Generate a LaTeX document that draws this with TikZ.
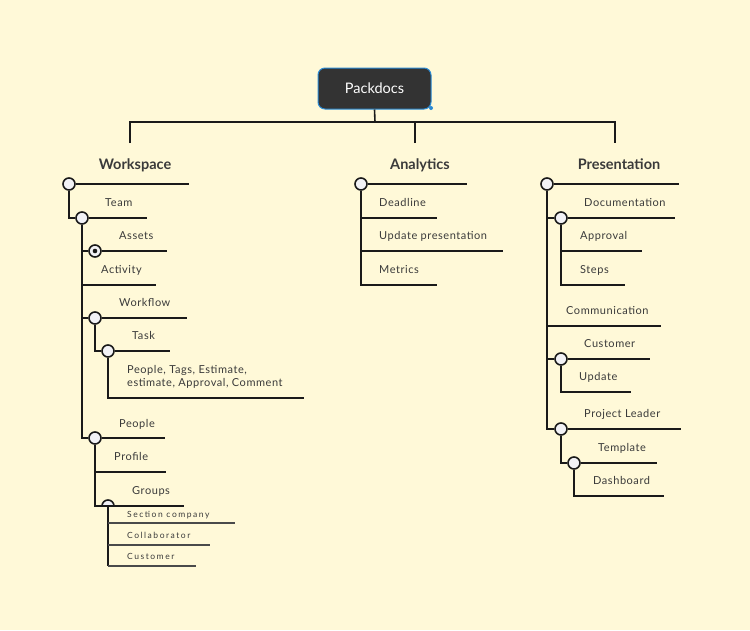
\documentclass[tikz,border=0pt]{standalone}
\usepackage{fontspec}
\setmainfont{Lato}
\definecolor{bg}{HTML}{FFF9D8}
\definecolor{ln}{HTML}{1A1A1A}
\definecolor{tx}{HTML}{3A3A3A}
\definecolor{cf}{HTML}{F2F2F6}
\definecolor{rootc}{HTML}{333333}
\definecolor{rootb}{HTML}{2A8AD4}
\definecolor{subln}{HTML}{4A4A4A}
\begin{document}
\begin{tikzpicture}[x=1pt,y=-1pt,
  br/.style={line width=1.6pt, draw=ln},
  sbr/.style={line width=1.2pt, draw=subln},
  dotc/.style={circle, draw=ln, line width=1.6pt, fill=cf, minimum size=12pt, inner sep=0pt},
  lbl/.style={anchor=base west, inner sep=0pt, font=\fontsize{11}{12.5}\selectfont\addfontfeatures{LetterSpace=5}, text=tx},
  slbl/.style={anchor=base west, inner sep=0pt, font=\fontsize{8.5}{9}\selectfont\addfontfeatures{LetterSpace=18}, text=tx},
  head/.style={anchor=base, inner sep=0pt, font=\bfseries\fontsize{14.5}{16}\selectfont, text=tx},
  root/.style={rectangle, rounded corners=7pt, fill=rootc, draw=rootb, line width=1pt, minimum width=113pt, minimum height=41pt, text=white, font=\fontsize{14.5}{16}\selectfont}]
\fill[bg] (0,0) rectangle (750,630);
\useasboundingbox (0,0) rectangle (750,630);

% root
\node[root] (root) at (374.5,88.5) {Packdocs};
\fill[rootb] (431,108) circle (2pt);
\coordinate (hb) at (375,122);
\coordinate (cw) at (130,143);
\coordinate (ca) at (415,143);
\coordinate (cp) at (615,143);
\draw[br] (root.south) -- (hb);
\draw[br] (cw) |- (hb) -| (cp);
\draw[br] (ca) -- (ca |- hb);

% headings
\node[head] (hw) at (135,169) {Workspace};
\node[head] (ha) at (420,169) {Analytics};
\node[head] (hp) at (619,169) {Presentation};

% ---------------- Workspace
\node[dotc] (w0) at (69,184) {};
\coordinate (w0e) at (189,184);
\node[dotc] (team) at (82,218) {};
\coordinate (teame) at (147,218);
\node[dotc] (assets) at (95,251) {};
\fill[ln] (assets) circle (2.3pt);
\coordinate (assetse) at (167,251);
\coordinate (acte) at (156,285);
\node[dotc] (wf) at (95,318) {};
\coordinate (wfe) at (187,318);
\node[dotc] (task) at (108,351) {};
\coordinate (taske) at (170,351);
\coordinate (tagse) at (304,398);
\node[dotc] (people) at (95,438) {};
\coordinate (peoplee) at (165,438);
\coordinate (profe) at (166,472);
\coordinate (grp) at (108,506);
\coordinate (grpe) at (184,506);
\coordinate (s1) at (235,523);
\coordinate (s2) at (210,545);
\coordinate (s3) at (196,566);

\draw[br] (w0) -- (w0e);
\draw[br] (w0.south) |- (team.west);
\draw[br] (team) -- (teame);
\draw[br] (team.south) |- (people.west);
\draw[br] (assets.west -| team.south) -- (assets.west);
\draw[br] (assets) -- (assetse);
\draw[br] (acte -| team.south) -- (acte);
\draw[br] (wf.west -| team.south) -- (wf.west);
\draw[br] (wf) -- (wfe);
\draw[br] (wf.south) |- (task.west);
\draw[br] (task) -- (taske);
\draw[br] (task.south) |- (tagse);
\draw[br] (people) -- (peoplee);
\draw[br] (people.south) |- (grp);
\draw[br] (profe -| people.south) -- (profe);
\draw[br] (grp) -- (grpe);
\draw[br] (grp) -- (grp |- s3);
\draw[sbr] (grp |- s1) -- (s1);
\draw[sbr] (grp |- s2) -- (s2);
\draw[sbr] (grp |- s3) -- (s3);
\filldraw[fill=cf, draw=ln, line width=1.6pt] ([xshift=-6pt]grp) arc (180:0:6pt) -- cycle;
\draw[br] ([xshift=-6pt]grp) -- ([xshift=6pt]grp);

\node[lbl] (lteam) at (105,206) {Team};
\node[lbl] (lassets) at (119,239) {Assets};
\node[lbl] (lact) at (101,273) {Activity};
\node[lbl] (lwf) at (119,306) {Workflow};
\node[lbl] (ltask) at (132,339) {Task};
\node[lbl] (ltags1) at (127,373) {People, Tags, Estimate,};
\node[lbl] (ltags2) at (127,386) {estimate, Approval, Comment};
\node[lbl] (lpeople) at (119,427) {People};
\node[lbl] (lprof) at (114,460) {Profile};
\node[lbl] (lgrp) at (132,494) {Groups};
\node[slbl] (ls1) at (127,517) {Section company};
\node[slbl] (ls2) at (127,538) {Collaborator};
\node[slbl] (ls3) at (127,559) {Customer};

% ---------------- Analytics
\node[dotc] (a0) at (361,184) {};
\coordinate (a0e) at (467,184);
\coordinate (a1) at (437,218);
\coordinate (a2) at (503,251);
\coordinate (a3) at (437,285);
\draw[br] (a0) -- (a0e);
\draw[br] (a0.south) |- (a3);
\draw[br] (a1 -| a0.south) -- (a1);
\draw[br] (a2 -| a0.south) -- (a2);
\node[lbl] (la1) at (379,206) {Deadline};
\node[lbl] (la2) at (379,239) {Update presentation};
\node[lbl] (la3) at (379,273) {Metrics};

% ---------------- Presentation
\node[dotc] (p0) at (547,184) {};
\coordinate (p0e) at (679,184);
\node[dotc] (doc) at (561,218) {};
\coordinate (doce) at (675,218);
\coordinate (appe) at (642,251);
\coordinate (stepe) at (625,285);
\coordinate (come) at (661,326);
\node[dotc] (cust) at (561,359) {};
\coordinate (custe) at (650,359);
\coordinate (upde) at (631,392);
\node[dotc] (pl) at (561,429) {};
\coordinate (ple) at (681,429);
\node[dotc] (tmpl) at (574,463) {};
\coordinate (tmple) at (657,463);
\coordinate (dashe) at (664,496);

\draw[br] (p0) -- (p0e);
\draw[br] (p0.south) |- (pl.west);
\draw[br] (doc.west -| p0.south) -- (doc.west);
\draw[br] (doc) -- (doce);
\draw[br] (doc.south) |- (stepe);
\draw[br] (appe -| doc.south) -- (appe);
\draw[br] (come -| p0.south) -- (come);
\draw[br] (cust.west -| p0.south) -- (cust.west);
\draw[br] (cust) -- (custe);
\draw[br] (cust.south) |- (upde);
\draw[br] (pl) -- (ple);
\draw[br] (pl.south) |- (tmpl.west);
\draw[br] (tmpl) -- (tmple);
\draw[br] (tmpl.south) |- (dashe);

\node[lbl] (lp1) at (584,206) {Documentation};
\node[lbl] (lp2) at (580,239) {Approval};
\node[lbl] (lp3) at (580,273) {Steps};
\node[lbl] (lp4) at (566,314) {Communication};
\node[lbl] (lp5) at (584,347) {Customer};
\node[lbl] (lp6) at (579,380) {Update};
\node[lbl] (lp7) at (584,417) {Project Leader};
\node[lbl] (lp8) at (598,451) {Template};
\node[lbl] (lp9) at (593,484) {Dashboard};
\end{tikzpicture}
\end{document}
